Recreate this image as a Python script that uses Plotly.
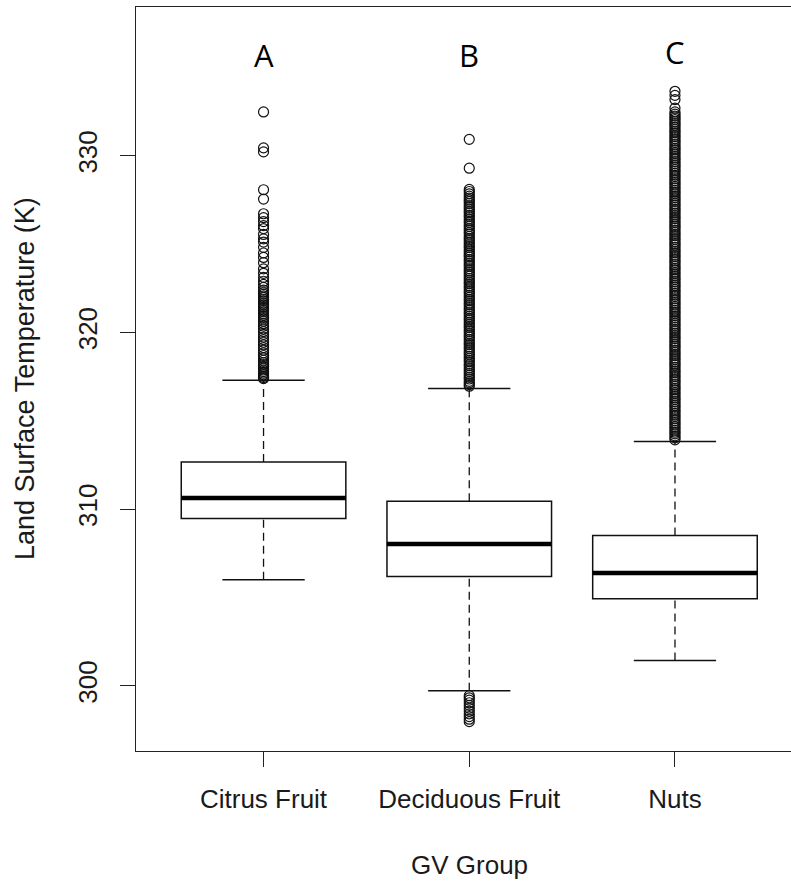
import plotly.graph_objects as go

# ---------------- data ----------------
groups = ["Citrus Fruit", "Deciduous Fruit", "Nuts"]
positions = [1, 2, 3]
letters = ["A", "B", "C"]
letter_y = [335.7, 335.7, 335.87]

q1 = [309.47, 306.2, 304.94]
median = [310.63, 308.03, 306.39]
q3 = [312.67, 310.45, 308.52]
whisker_low = [306.01, 299.73, 301.44]
whisker_high = [317.3, 316.83, 313.83]

citrus_out = [332.48, 330.45, 330.22, 328.08, 327.55, 326.72, 326.5, 326.28, 326.05, 325.88,
              325.55, 325.3, 325.12, 324.82, 324.5, 324.25, 323.95, 323.6, 323.35, 323.12,
              322.9, 322.72, 322.55, 322.4, 322.28, 322.18, 322.07, 321.98, 321.87, 321.78,
              321.66, 321.57, 321.46, 321.37, 321.25, 321.16, 321.05, 320.96, 320.85, 320.76,
              320.64, 320.5, 320.36, 320.2, 320.05, 319.9, 319.74, 319.6, 319.45, 319.3,
              319.15, 319.0, 318.85, 318.7, 318.56, 318.43, 318.3, 318.19, 318.08, 317.98,
              317.88, 317.79, 317.7, 317.61, 317.53, 317.45, 317.39]

deciduous_out = [330.93, 329.3, 328.1, 327.98, 327.85, 327.72,
                 327.61, 327.5, 327.41, 327.3, 327.17, 327.08, 326.96, 326.85, 326.77, 326.64,
                 326.55, 326.43, 326.31, 326.22, 326.1, 326.0, 325.87, 325.78, 325.66, 325.57,
                 325.44, 325.33, 325.24, 325.12, 325.01, 324.9, 324.81, 324.68, 324.58, 324.47,
                 324.36, 324.27, 324.14, 324.05, 323.93, 323.82, 323.74, 323.61, 323.5, 323.4,
                 323.28, 323.19, 323.07, 322.96, 322.85, 322.76, 322.63, 322.54, 322.42, 322.31,
                 322.22, 322.1, 321.99, 321.88, 321.79, 321.66, 321.57, 321.45, 321.34, 321.25,
                 321.12, 321.03, 320.91, 320.8, 320.71, 320.59, 320.48, 320.37, 320.28, 320.15,
                 320.06, 319.94, 319.83, 319.74, 319.62, 319.51, 319.4, 319.31, 319.18, 319.09,
                 318.97, 318.86, 318.77, 318.65, 318.54, 318.43, 318.34, 318.21, 318.12, 318.0,
                 317.89, 317.8, 317.68, 317.57, 317.46, 317.37, 317.24, 317.15, 317.05, 316.96,
                 299.45, 299.33, 299.2, 299.05, 298.9, 298.74, 298.58, 298.42, 298.27, 298.12,
                 297.98]

nuts_out = [333.65, 333.42, 333.18, 332.7, 332.48,
            332.36, 332.25, 332.14, 332.05, 331.93, 331.82, 331.73, 331.61, 331.5, 331.39,
            331.3, 331.17, 331.08, 330.96, 330.85, 330.76, 330.64, 330.53, 330.42, 330.33,
            330.2, 330.11, 329.99, 329.88, 329.79, 329.67, 329.56, 329.45, 329.36, 329.23,
            329.14, 329.02, 328.91, 328.82, 328.7, 328.59, 328.48, 328.39, 328.26, 328.17,
            328.05, 327.94, 327.85, 327.73, 327.62, 327.51, 327.42, 327.29, 327.2, 327.08,
            326.97, 326.88, 326.76, 326.65, 326.54, 326.45, 326.32, 326.23, 326.11, 326.0,
            325.91, 325.79, 325.68, 325.57, 325.48, 325.35, 325.26, 325.14, 325.03, 324.94,
            324.82, 324.71, 324.6, 324.51, 324.38, 324.29, 324.17, 324.06, 323.97, 323.85,
            323.74, 323.63, 323.54, 323.41, 323.32, 323.2, 323.09, 323.0, 322.88, 322.77,
            322.66, 322.57, 322.44, 322.35, 322.23, 322.12, 322.03, 321.91, 321.8, 321.69,
            321.6, 321.47, 321.38, 321.26, 321.15, 321.06, 320.94, 320.83, 320.72, 320.63,
            320.5, 320.41, 320.29, 320.18, 320.09, 319.97, 319.86, 319.75, 319.66, 319.53,
            319.44, 319.32, 319.21, 319.12, 319.0, 318.89, 318.78, 318.69, 318.56, 318.47,
            318.35, 318.24, 318.15, 318.03, 317.92, 317.81, 317.72, 317.59, 317.5, 317.38,
            317.27, 317.18, 317.06, 316.95, 316.84, 316.75, 316.62, 316.53, 316.41, 316.3,
            316.21, 316.09, 315.98, 315.87, 315.78, 315.65, 315.56, 315.44, 315.33, 315.24,
            315.12, 315.01, 314.9, 314.81, 314.68, 314.59, 314.47, 314.36, 314.27, 314.15,
            314.04, 313.93]

outliers = [citrus_out, deciduous_out, nuts_out]

y_ticks = [300, 310, 320, 330]

# ---------------- style ----------------
BOX_W = 0.8
STAPLE_W = 0.4
INK = "#111111"
TXT = "#1a1a1a"

fig = go.Figure()

for i, pos in enumerate(positions):
    # dashed whiskers
    fig.add_trace(go.Scatter(x=[pos, pos], y=[q3[i], whisker_high[i]], mode="lines",
                             line=dict(color=INK, width=1.3, dash="8px,5px"), hoverinfo="skip"))
    fig.add_trace(go.Scatter(x=[pos, pos], y=[whisker_low[i], q1[i]], mode="lines",
                             line=dict(color=INK, width=1.3, dash="8px,5px"), hoverinfo="skip"))
    # box
    fig.add_trace(go.Box(x=[pos], q1=[q1[i]], median=[median[i]], q3=[q3[i]],
                         lowerfence=[q1[i]], upperfence=[q3[i]], width=BOX_W,
                         whiskerwidth=0, fillcolor="white", boxpoints=False,
                         line=dict(color=INK, width=1.5), hoverinfo="skip"))
    # thick median
    fig.add_trace(go.Scatter(x=[pos - BOX_W / 2, pos + BOX_W / 2], y=[median[i], median[i]],
                             mode="lines", line=dict(color="black", width=4.5), hoverinfo="skip"))
    # staples
    for v in (whisker_low[i], whisker_high[i]):
        fig.add_trace(go.Scatter(x=[pos - STAPLE_W / 2, pos + STAPLE_W / 2], y=[v, v],
                                 mode="lines", line=dict(color=INK, width=1.5), hoverinfo="skip"))
    # outliers
    fig.add_trace(go.Scatter(x=[pos] * len(outliers[i]), y=outliers[i], mode="markers",
                             marker=dict(symbol="circle-open", size=10, color=INK,
                                         line=dict(width=1.2, color=INK)),
                             hoverinfo="skip"))

for i, pos in enumerate(positions):
    fig.add_annotation(x=pos, y=letter_y[i], text=letters[i], showarrow=False,
                       font=dict(family="Open Sans", size=31, color="black"),
                       xanchor="center", yanchor="middle")

fig.add_annotation(xref="paper", yref="paper", x=-136 / 655 + 25 / 655, y=0.5,
                   text="Land Surface Temperature (K)", textangle=-90, showarrow=False,
                   font=dict(family="Liberation Sans, Arial", size=27, color=TXT),
                   xanchor="center", yanchor="middle")
fig.add_annotation(xref="paper", yref="paper", x=(469 - 136) / 655, y=-(865 - 750.5) / 744,
                   text="GV Group", showarrow=False,
                   font=dict(family="Liberation Sans, Arial", size=26, color=TXT),
                   xanchor="center", yanchor="middle")

fig.update_layout(
    width=791, height=884,
    margin=dict(l=136, r=0, t=7, b=133),
    paper_bgcolor="white", plot_bgcolor="white",
    showlegend=False,
    font=dict(family="Liberation Sans, Arial", size=26, color=TXT),
    xaxis=dict(range=[0.38, 3.564], tickmode="array", tickvals=positions, ticktext=groups,
               showgrid=False, zeroline=False, showline=True, mirror=True,
               linecolor="#222", linewidth=1.4, ticks="outside", ticklen=15, tickwidth=1.3,
               tickcolor="#222", ticklabelstandoff=10,
               tickfont=dict(family="Liberation Sans, Arial", size=26, color=TXT)),
    yaxis=dict(range=[296.32, 338.42], tickmode="array", tickvals=y_ticks,
               ticktext=[str(t) for t in y_ticks], tickangle=-90,
               showgrid=False, zeroline=False, showline=True, mirror=False,
               linecolor="#222", linewidth=1.4, ticks="outside", ticklen=15, tickwidth=1.3,
               tickcolor="#222", ticklabelstandoff=12,
               tickfont=dict(family="Liberation Sans, Arial", size=26, color=TXT)),
)

fig.write_html("out.html")
